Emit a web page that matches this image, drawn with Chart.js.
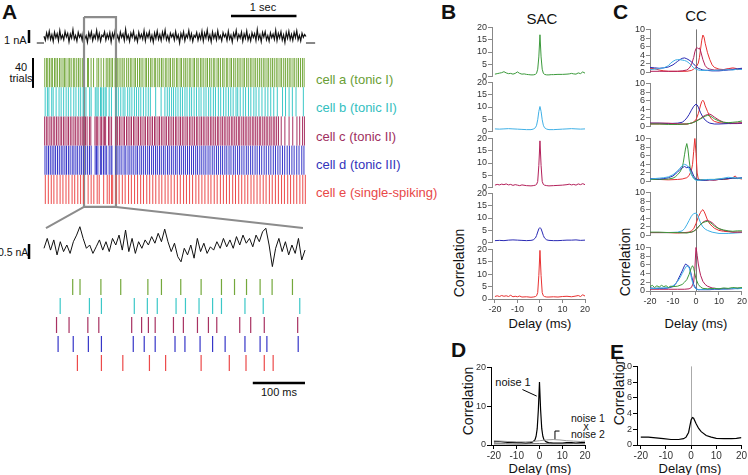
<!DOCTYPE html>
<html>
<head>
<meta charset="utf-8">
<script src="https://cdn.jsdelivr.net/npm/chart.js@4.4.1/dist/chart.umd.min.js"></script>
<style>
  body { margin: 0; background: #fff; }
  #fig { position: relative; width: 748px; height: 475px; overflow: hidden;
         font-family: 'Liberation Sans', Arial, sans-serif; color: #111; background: #fff; }
  #fig canvas { position: absolute; }
  .t { position: absolute; white-space: nowrap; line-height: 1; }
  .c { transform: translate(-50%, -50%); }
  .m { transform: translateY(-50%); }
  .rot { transform: translate(-50%, -50%) rotate(-90deg); }
  .L { font-weight: bold; font-size: 21px; }
</style>
</head>
<body>
<div id="fig">
  <div class="t L" style="left:2px;top:1px">A</div>
  <div class="t L" style="left:441px;top:1px">B</div>
  <div class="t L" style="left:613px;top:1px">C</div>
  <div class="t L" style="left:451px;top:339px">D</div>
  <div class="t L" style="left:610px;top:341px">E</div>

  <div class="t c" style="left:263px;top:7px;font-size:11px">1 sec</div>
  <div class="t m" style="left:4px;top:40px;font-size:11px">1 nA</div>
  <div class="t c" style="left:21px;top:67px;font-size:11px">40</div>
  <div class="t c" style="left:21px;top:78px;font-size:11px">trials</div>
  <div class="t m" style="left:316px;top:79px;font-size:13px;color:#6a9e35">cell a (tonic I)</div>
  <div class="t m" style="left:316px;top:107px;font-size:13px;color:#33c0c0">cell b (tonic II)</div>
  <div class="t m" style="left:316px;top:136px;font-size:13px;color:#a03060">cell c (tonic II)</div>
  <div class="t m" style="left:316px;top:164px;font-size:13px;color:#3333bb">cell d (tonic III)</div>
  <div class="t m" style="left:316px;top:192px;font-size:13px;color:#e84848">cell e (single-spiking)</div>
  <div class="t m" style="left:-2px;top:252px;font-size:10.5px">0.5 nA</div>
  <div class="t c" style="left:279px;top:392px;font-size:11px">100 ms</div>

  <div class="t c" style="left:542px;top:18px;font-size:15px">SAC</div>
  <div class="t c" style="left:696px;top:15px;font-size:15px">CC</div>
  <div class="t c" style="left:540px;top:323px;font-size:13px">Delay (ms)</div>
  <div class="t c" style="left:696px;top:323px;font-size:13px">Delay (ms)</div>
  <div class="t c" style="left:540px;top:468px;font-size:13px">Delay (ms)</div>
  <div class="t c" style="left:690px;top:468px;font-size:13px">Delay (ms)</div>
  <div class="t rot" style="left:459px;top:263px;font-size:14px">Correlation</div>
  <div class="t rot" style="left:625px;top:262px;font-size:14px">Correlation</div>
  <div class="t rot" style="left:468px;top:401px;font-size:14px">Correlation</div>
  <div class="t rot" style="left:619px;top:391px;font-size:14px">Correlation</div>

  <div class="t c" style="left:513px;top:382px;font-size:11px">noise 1</div>
  <div class="t m" style="left:571px;top:418px;font-size:10.5px">noise 1</div>
  <div class="t c" style="left:586px;top:426px;font-size:10.5px">x</div>
  <div class="t m" style="left:571px;top:434px;font-size:10.5px">noise 2</div>
</div>

<script>
// ---------- panel A : current traces (nA) ----------
const topTrace = [0.52,0.21,0.78,0.35,0.90,0.28,0.64,0.12,0.83,0.40,
  0.71,0.18,0.95,0.33,0.60,0.25,0.88,0.46,0.74,0.10,
  0.69,0.37,1.02,0.29,0.58,0.15,0.81,0.44,0.66,0.22,
  0.92,0.31,0.57,0.06,0.79,0.41,0.85,0.19,0.63,0.36,
  0.97,0.27,0.72,0.14,0.61,0.48,0.86,0.23,0.68,0.34,
  0.80,0.09,0.75,0.39,0.93,0.26,0.59,0.17,0.84,0.43,
  0.70,0.20,1.05,0.32,0.62,0.13,0.77,0.45,0.89,0.24,
  0.56,0.11,0.82,0.38,0.67,0.30,0.94,0.16,0.73,0.42,
  0.87,0.21,0.60,0.07,0.78,0.35,0.91,0.28,0.65,0.19,
  0.83,0.40,0.99,0.25,0.58,0.14,0.76,0.46,0.69,0.23,
  0.88,0.33,0.62,0.02,0.74,0.37,0.86,0.18,0.64,0.41,
  0.95,0.29,0.71,0.12,0.59,0.44,0.81,0.22,0.67,0.31,
  0.90,0.15,0.77,0.39,1.00,0.27,0.63,0.10,0.85,0.36,
  0.72,0.24,0.93,0.34,0.57,0.17,0.80,0.47,0.68,0.20,
  0.89,0.30,0.61,0.08,0.75,0.42,0.96,0.26,0.66,0.38,
  0.84,0.13,0.70,0.35,0.92,0.23,0.60,0.16,0.79,0.43,
  0.73,0.19,1.03,0.31,0.64,0.11,0.82,0.45,0.87,0.25,
  0.58,0.14,0.78,0.40,0.69,0.28,0.97,0.18,0.74,0.39,
  0.86,0.22,0.62,0.05,0.80,0.36,0.90,0.27,0.67,0.21,
  0.81,0.41,0.94,0.24,0.59,0.16,0.75,0.44,0.65,0.50];
const topTraceMs = 4000;

const zoomTrace = [-0.01,0.32,-0.07,0.27,-0.23,0.21,-0.12,0.10,-0.18,0.21,
  0.43,0.71,0.32,-0.01,0.10,-0.18,0.04,0.27,-0.07,0.21,
  -0.12,0.32,0.10,0.43,-0.07,0.60,-0.12,0.32,-0.18,0.21,
  -0.01,0.27,0.10,0.38,0.16,0.49,0.21,0.63,0.21,-0.12,
  0.16,-0.29,-0.46,-0.01,-0.23,0.10,-0.34,0.32,-0.12,0.16,
  -0.18,0.04,-0.07,0.21,-0.01,0.32,0.04,0.27,-0.01,0.38,
  0.10,0.43,0.16,0.32,0.04,0.43,0.21,0.54,0.66,0.10,
  -0.62,-0.01,0.32,-0.12,0.21,-0.23,0.10,-0.18,0.32,-0.40,-0.07];
const zoomTraceMs = 500;
const zoomWindow = [611, 1099];   // ms of the 4 s record shown below

// ---------- panel A : spike times (ms) ----------
const greenTop = [12,40,58,85,110,128,160,182,205,236,260,290,312,335,368,392,415,448,470,500,528,552,585,
  665,679,719,757,809,835,872,911,950,975,998,1024,1047,1086,
  1118,1146,1175,1203,1226,1262,1288,1318,1342,1375,1396,1428,1458,1482,1510,1545,1566,1596,1628,1650,1684,1705,
  1738,1766,1795,1818,1852,1876,1908,1932,1965,1988,2022,2044,2078,2100,2134,2158,2186,2218,2242,2276,2298,2332,
  2354,2388,2412,2440,2472,2496,2528,2553,2585,2608,2642,2666,2694,2728,2750,2784,2806,2840,2863,2896,2920,2952,
  2978,3006,3038,3060,3094,3118,3150,3175,3206,3232,3262,3292,3318,3348,3374,3405,3430,3462,3488,3516,3546,3572,
  3604,3628,3660,3686,3716,3744,3770,3802,3828,3860,3886,3916,3946,3972];
const cyanTop = [18,52,75,118,140,185,230,262,300,338,372,410,455,488,530,560,598,
  641,697,720,783,808,827,863,881,907,933,950,995,1030,1100,
  1135,1172,1208,1236,1278,1310,1342,1380,1412,1446,1478,1518,1556,1592,1624,1705,1788,1846,1882,1914,1948,1978,
  2012,2046,2082,2114,2152,2184,2224,2254,2292,2328,2366,2398,2442,2474,2514,2546,2586,2618,2662,2698,2742,2778,
  2816,2852,2888,2932,2958,2996,3042,3078,3122,3158,3204,3238,3282,3328,3376,3418,3462,3508,3562,3642,3688,3742,
  3792,3848,3960];
const maroonTop = [10,36,60,90,112,141,164,192,217,246,269,297,321,351,374,402,427,456,479,507,532,561,584,610,
  634,658,694,715,778,797,810,823,858,877,904,925,941,985,1006,1032,1096,
  1124,1152,1176,1207,1229,1260,1284,1312,1336,1367,1389,1420,1443,1472,1497,1527,1549,1580,1604,1632,1657,1687,
  1709,1740,1764,1792,1817,1847,1869,1900,1924,1952,1977,2007,2029,2060,2084,2112,2137,2167,2189,2220,2244,2272,
  2297,2327,2349,2380,2404,2432,2457,2487,2509,2540,2564,2592,2617,2647,2669,2700,2724,2752,2777,2807,2829,2860,
  2884,2912,2937,2967,2989,3020,3044,3072,3097,3127,3149,3180,3204,3232,3257,3287,3309,3340,3364,3392,3417,3447,
  3469,3500,3524,3552,3580,3622,3678,3742,3798,3862,3904,3948,3976];
const blueTop = [15,43,69,96,124,151,177,206,234,263,289,319,344,373,399,431,457,487,514,546,571,601,
  637,666,695,720,781,802,823,861,880,909,933,957,995,1024,1037,1097,
  1129,1159,1189,1223,1249,1283,1311,1341,1371,1403,1429,1463,1491,1521,1551,1583,1611,1643,1671,1703,1731,1763,
  1791,1823,1851,1885,1913,1945,1974,2006,2034,2068,2097,2129,2159,2191,2221,2253,2283,2316,2345,2379,2409,2441,
  2471,2505,2535,2569,2599,2633,2663,2697,2727,2761,2791,2825,2855,2891,2921,2956,2987,3021,3053,3089,3119,3155,
  3187,3223,3255,3291,3324,3361,3394,3431,3464,3501,3534,3571,3604,3641,3675,3713,3747,3785,3819,3859,3894,3936,3969];
const redTop = [20,66,111,151,199,246,289,336,379,429,469,516,559,601,
  674,720,761,812,843,911,965,997,1032,1049,
  1101,1147,1196,1239,1291,1334,1383,1429,1476,1519,1569,1614,1661,1707,1756,1799,1849,1894,1941,1989,2036,2081,
  2131,2175,2223,2269,2319,2364,2411,2457,2506,2549,2599,2644,2693,2739,2786,2831,2881,2924,2973,3019,3067,3111,
  3161,3205,3253,3299,3347,3391,3441,3485,3533,3579,3627,3671,3721,3765,3813,3859,3907,3951,3990];

const greenZoom = [55,69,109,147,199,225,262,301,340,365,388,414,437,476];
const cyanZoom = [31,87,110,173,198,217,253,271,297,323,340,385,420,490];
const maroonZoom = [24,48,84,105,168,187,200,213,248,267,294,315,331,375,396,422,486];
const blueZoom = [27,56,85,110,171,192,213,251,270,299,323,347,385,414,427,487];
const redZoom = [64,110,151,202,233,301,355,387,422,439];

// ---------- panel B : autocorrelations [delay ms, correlation] ----------
const sacA = [[-20,1.0],[-19,1.2],[-18,1.4],[-17,1.6],[-16,2.0],[-15,1.5],[-14,1.2],[-13,1.3],[-12,1.0],[-11,1.3],[-10,1.9],
  [-9,1.3],[-8,1.0],[-7,1.1],[-6,0.9],[-5,0.8],[-4,0.7],[-3,0.7],[-2,0.9],[-1.5,1.4],[-1,3],[-0.5,8],[0,17],[0.5,8],[1,3],
  [1.5,1.4],[2,0.9],[3,0.7],[4,0.7],[5,0.8],[6,0.8],[8,0.9],[10,0.9],[12,1.0],[13,1.1],[14,1.3],[15,1.1],[16,1.0],[17,1.5],
  [18,1.2],[19,1.9],[20,1.4]];
const sacB = [[-20,1.1],[-18,1.0],[-16,1.1],[-14,1.2],[-12,1.1],[-10,1.0],[-8,0.9],[-6,0.8],[-4,0.8],[-3,1.0],[-2,1.6],
  [-1.5,2.6],[-1,4.8],[-0.5,8.2],[0,10.2],[0.5,8.2],[1,4.8],[1.5,2.6],[2,1.6],[3,1.0],[4,0.8],[6,0.8],[8,0.9],[10,1.0],
  [12,1.1],[14,1.2],[16,1.1],[18,1.0],[20,1.1]];
const sacC = [[-20,1.0],[-19,1.3],[-18,1.1],[-17,1.4],[-16,1.2],[-15,1.5],[-14,1.1],[-13,1.3],[-12,0.9],[-11,1.2],[-10,1.0],
  [-9,0.8],[-8,1.1],[-6,0.8],[-4,0.7],[-3,0.8],[-2,1.0],[-1.5,1.3],[-1,2.5],[-0.5,9],[0,19],[0.5,9],[1,2.5],[1.5,1.3],
  [2,1.0],[3,0.8],[4,0.7],[6,0.8],[8,0.9],[10,1.0],[12,1.2],[13,1.4],[14,1.1],[15,1.3],[16,1.0],[17,1.5],[18,1.2],
  [19,1.6],[20,1.2]];
const sacD = [[-20,0.8],[-18,0.9],[-16,0.8],[-14,1.0],[-12,1.1],[-10,1.0],[-8,0.9],[-6,0.8],[-4,0.9],[-3,1.1],[-2,1.9],
  [-1.5,2.9],[-1,4.3],[-0.5,5.6],[0,6.1],[0.5,5.6],[1,4.3],[1.5,2.9],[2,1.9],[3,1.1],[4,0.9],[6,0.8],[8,0.8],[10,0.9],
  [12,1.0],[14,1.0],[16,1.1],[18,0.9],[20,1.0]];
const sacE = [[-20,1.0],[-19,1.3],[-18,1.0],[-17,1.4],[-16,1.1],[-15,1.3],[-14,1.0],[-13,1.5],[-12,0.9],[-11,1.1],[-10,0.9],
  [-9,1.2],[-8,0.8],[-6,0.9],[-4,0.7],[-3,0.8],[-2,1.0],[-1.5,1.3],[-1,2.6],[-0.5,9.5],[0,19.6],[0.5,9.5],[1,2.6],
  [1.5,1.3],[2,1.0],[3,0.8],[4,0.8],[6,0.9],[8,0.8],[10,1.0],[12,1.1],[14,0.9],[16,1.2],[17,1.4],[18,1.0],[19,1.7],[20,1.2]];

// ---------- panel C : cross-correlations, one row per reference cell ----------
const cc1Cyan = [[-20,0.7],[-18,0.8],[-16,0.9],[-14,1.1],[-12,1.6],[-11,2.2],[-10,2.6],[-9,2.9],[-8,3.0],[-7,3.0],[-6,2.9],
  [-5,2.8],[-4,2.6],[-3,2.2],[-2,1.7],[-1,1.1],[0,0.8],[1,0.6],[2,0.5],[4,0.5],[6,0.6],[8,0.5],[10,0.6],[12,0.6],[14,0.7],
  [16,0.6],[18,0.8],[20,0.7]];
const cc1Blue = [[-20,1.2],[-18,1.1],[-16,1.0],[-14,1.1],[-12,1.3],[-10,1.8],[-9,2.2],[-8,2.6],[-7,3.0],[-6,3.3],[-5,3.4],
  [-4,3.2],[-3,2.9],[-2,2.5],[-1,2.0],[0,1.4],[1,1.0],[2,0.8],[3,0.6],[5,0.5],[7,0.4],[10,0.4],[12,0.5],[14,0.6],[16,0.7],
  [18,0.9],[20,1.0]];
const cc1Maroon = [[-20,0.3],[-16,0.3],[-12,0.3],[-8,0.3],[-6,0.4],[-4,0.6],[-3,1.0],[-2,1.8],[-1,3.5],[-0.5,4.8],[0,5.6],
  [0.5,5.8],[1,5.5],[1.5,5.7],[2,5.0],[3,3.0],[4,1.6],[5,1.0],[6,0.8],[8,0.6],[10,0.6],[12,0.7],[14,0.8],[16,0.8],[18,0.7],[20,0.8]];
const cc1Red = [[-20,1.0],[-18,0.9],[-16,0.6],[-14,0.4],[-12,0.3],[-8,0.3],[-4,0.3],[-2,0.5],[-1,0.8],[0,1.2],[1,2.2],
  [1.5,3.5],[2,5.5],[2.5,7.5],[3,8.7],[3.5,8.2],[4,6.8],[5,4.6],[6,3.0],[7,1.8],[8,1.2],[10,0.8],[12,0.7],[14,0.9],[16,1.1],
  [18,0.9],[20,0.8]];

const cc2Blue = [[-20,0.8],[-16,0.8],[-12,0.7],[-8,0.8],[-6,1.0],[-5,1.4],[-4,2.0],[-3,2.8],[-2,3.8],[-1,4.7],[0,5.2],
  [0.5,5.0],[1,4.5],[2,3.2],[3,2.2],[4,1.5],[5,1.1],[6,0.8],[8,0.6],[10,0.6],[14,0.7],[18,0.7],[20,0.8]];
const cc2Red = [[-20,0.6],[-16,0.6],[-12,0.6],[-8,0.5],[-4,0.6],[-2,0.8],[-1,1.1],[0,1.6],[1,3.0],[2,5.0],[2.5,5.8],[3,6.1],
  [3.5,5.7],[4,4.8],[5,3.5],[6,2.3],[7,1.6],[8,1.2],[10,0.9],[12,0.8],[15,0.7],[18,0.8],[20,0.8]];
const cc2Green = [[-20,0.6],[-16,0.6],[-12,0.5],[-8,0.5],[-4,0.6],[-2,0.8],[0,1.2],[1,1.5],[2,1.8],[3,2.1],[4,2.4],[5,2.6],
  [6,2.5],[7,2.2],[8,1.8],[10,1.3],[12,1.0],[14,0.9],[16,1.0],[18,1.1],[20,1.3]];
const cc2Maroon = [[-20,0.8],[-16,0.8],[-12,0.8],[-10,0.7],[-6,0.6],[-4,0.6],[-2,0.8],[-1,1.0],[0,1.3],[1,1.6],[2,1.9],
  [3,2.3],[4,2.6],[5,2.8],[6,2.9],[7,2.6],[8,2.2],[10,1.5],[12,1.0],[14,0.9],[16,0.8],[18,0.8],[20,0.9]];

const cc3Green = [[-20,0.5],[-16,0.5],[-12,0.6],[-10,0.8],[-9,1.1],[-8,1.6],[-7,2.2],[-6,3.2],[-5.5,4.5],[-5,6.2],[-4.5,7.8],
  [-4,8.8],[-3.5,7.5],[-3,5.0],[-2.5,3.0],[-2,1.8],[-1,0.8],[0,0.4],[2,0.4],[4,0.4],[6,0.5],[8,0.5],[10,0.6],[12,0.6],
  [14,0.7],[16,0.8],[18,0.7],[20,0.8]];
const cc3Red = [[-20,0.5],[-16,0.5],[-12,0.4],[-8,0.5],[-6,0.6],[-4,0.9],[-3,1.4],[-2,2.6],[-1.5,4.0],[-1,7.0],[-0.5,10.2],
  [0,6.5],[0.5,2.0],[1,0.6],[2,0.4],[4,0.3],[6,0.4],[8,0.3],[10,0.5],[12,0.5],[14,0.6],[16,0.9],[17,1.3],[18,0.8],[20,0.6]];
const cc3Cyan = [[-20,0.6],[-18,0.7],[-16,0.8],[-14,0.9],[-12,1.1],[-10,1.6],[-8,2.5],[-7,3.1],[-6,3.7],[-5,4.0],[-4,3.8],
  [-3,3.0],[-2,1.6],[-1,0.7],[0,0.3],[1,0.3],[3,0.4],[5,0.5],[8,0.5],[10,0.6],[12,0.8],[14,1.0],[16,0.9],[18,0.8],[20,0.8]];
const cc3Blue = [[-20,0.7],[-18,0.7],[-16,0.6],[-14,0.7],[-12,0.9],[-10,1.3],[-8,2.2],[-7,2.8],[-6,3.2],[-5,3.5],[-4,3.2],
  [-3,3.4],[-2,2.6],[-1,1.3],[0,0.6],[1,0.4],[2,0.3],[4,0.3],[6,0.4],[8,0.4],[10,0.5],[12,0.6],[14,0.7],[16,0.8],[18,0.8],[20,0.9]];

const cc4Cyan = [[-20,0.7],[-16,0.7],[-12,0.7],[-8,0.8],[-6,1.1],[-5,1.6],[-4,2.5],[-3,3.5],[-2,4.5],[-1,5.1],[0,5.2],
  [0.5,5.0],[1,4.3],[2,2.9],[3,2.0],[4,1.5],[5,1.2],[7,0.8],[10,0.5],[14,0.5],[17,0.6],[20,0.7]];
const cc4Red = [[-20,0.7],[-16,0.7],[-12,0.7],[-8,0.6],[-5,0.7],[-3,0.8],[-2,1.1],[-1,1.6],[0,2.8],[1,4.3],[2,5.4],[2.5,5.8],
  [3,6.0],[3.5,5.6],[4,5.0],[5,3.6],[6,2.7],[7,2.2],[8,1.7],[10,1.2],[12,1.0],[14,0.9],[17,0.8],[20,0.8]];
const cc4Green = [[-20,0.8],[-16,0.8],[-12,0.7],[-8,0.7],[-4,0.6],[-2,0.8],[-1,1.0],[0,1.4],[1,2.0],[2,2.6],[3,3.0],[4,3.2],
  [5,3.3],[6,3.1],[7,2.7],[8,2.2],[10,1.6],[12,1.3],[14,1.1],[16,1.0],[18,1.1],[20,1.1]];
const cc4Maroon = [[-20,0.7],[-16,0.7],[-12,0.7],[-8,0.7],[-4,0.7],[-2,0.8],[-1,1.0],[0,1.4],[1,2.0],[2,2.6],[3,3.1],[4,3.4],
  [5,3.5],[6,3.3],[7,3.0],[8,2.5],[9,2.0],[10,1.6],[12,1.2],[14,1.0],[16,0.8],[18,0.8],[20,0.8]];

const cc5Blue = [[-20,0.7],[-18,0.6],[-16,0.6],[-14,0.6],[-12,0.7],[-10,1.0],[-9,1.5],[-8,2.4],[-7,3.5],[-6,4.6],[-5,5.8],
  [-4.5,6.2],[-4,6.0],[-3,5.6],[-2.5,4.8],[-2,3.6],[-1,1.5],[0,0.5],[1,0.3],[2,0.3],[4,0.3],[6,0.3],[8,0.4],[10,0.4],
  [12,0.5],[14,0.5],[16,0.5],[18,0.6],[20,0.6]];
const cc5Cyan = [[-20,0.6],[-18,0.6],[-16,0.7],[-14,0.7],[-12,0.8],[-10,1.2],[-9,1.6],[-8,2.2],[-7,3.0],[-6,4.0],[-5,5.0],
  [-4,5.8],[-3,5.4],[-2.5,4.4],[-2,3.0],[-1.5,2.0],[-1,1.2],[-0.5,0.7],[0,0.5],[1,0.3],[3,0.4],[5,0.4],[8,0.5],[10,0.5],
  [12,0.4],[14,0.5],[16,0.6],[18,0.5],[20,0.6]];
const cc5Green = [[-20,1.0],[-19,1.3],[-18,0.8],[-17,1.2],[-16,0.9],[-15,1.3],[-14,1.0],[-13,1.2],[-12,0.8],[-11,1.1],[-10,1.0],
  [-8,1.1],[-6,1.5],[-5,2.0],[-4,2.6],[-3,3.8],[-2.5,4.6],[-2,5.4],[-1.5,5.8],[-1,5.2],[-0.5,4.0],[0,2.8],[1,1.5],[2,0.9],
  [3,0.6],[5,0.5],[8,0.6],[10,0.5],[12,0.7],[14,0.6],[16,0.8],[18,0.7],[20,0.8]];
const cc5Maroon = [[-20,0.4],[-16,0.4],[-12,0.4],[-8,0.4],[-5,0.4],[-3,0.5],[-2,0.8],[-1,2.0],[-0.5,5.0],[0,10.2],[0.5,8.2],
  [1,6.2],[1.5,4.8],[2,3.6],[3,2.2],[4,1.5],[5,1.1],[7,0.7],[10,0.5],[14,0.5],[17,0.6],[20,0.6]];

// ---------- panels D and E ----------
const dNoise1 = [[-20,0.8],[-18,0.9],[-16,0.8],[-14,0.7],[-12,0.7],[-10,0.6],[-8,0.6],[-6,0.5],[-4,0.6],[-3,0.8],[-2,1.3],
  [-1.5,2.2],[-1,4.2],[-0.5,9.0],[0,16.2],[0.5,9.0],[1,4.2],[1.5,2.2],[2,1.3],[3,0.8],[4,0.6],[6,0.5],[8,0.5],[10,0.5],
  [12,0.6],[14,0.6],[16,0.5],[18,0.6],[20,0.7]];
const dNoise2 = [[-20,1.1],[-17,1.0],[-14,0.9],[-10,0.8],[-6,0.8],[-3,0.9],[0,1.1],[3,1.3],[6,1.4],[9,1.3],[12,1.1],
  [15,1.0],[18,0.9],[20,1.0]];
const dCross = [[-20,0.3],[-15,0.3],[-10,0.25],[-5,0.3],[0,0.35],[5,0.3],[10,0.3],[15,0.35],[20,0.3]];
const eCC = [[-20,1.0],[-17,1.0],[-14,0.9],[-11,0.8],[-8,0.7],[-5,0.7],[-3,0.8],[-2,1.0],[-1,1.6],[-0.5,2.4],[0,3.2],
  [0.5,3.5],[1,3.4],[2,2.7],[3,2.1],[4,1.7],[6,1.2],[8,1.0],[10,0.85],[13,0.8],[16,0.8],[18,0.85],[20,0.95]];

const delayTicks = [-20, -10, 0, 10, 20];

// colours
const rasterColors = ['#74a83c', '#3cc8c8', '#a83262', '#3636c8', '#ec4a4a'];
const GREEN = '#3c9a3c', CYAN = '#40b0e6', MAROON = '#b3205a', BLUE = '#2a2ab4', RED = '#e83232';

Chart.defaults.font.family = "'Liberation Sans', Arial, sans-serif";

const fig = document.getElementById('fig');

const zeroLine = {
  id: 'zeroLine',
  beforeDatasetsDraw(chart, args, o) {
    if (!o || !o.color) return;
    const x = Math.round(chart.scales.x.getPixelForValue(0)) + 0.5;
    const ctx = chart.ctx;
    ctx.save();
    ctx.strokeStyle = o.color;
    ctx.lineWidth = 1;
    ctx.beginPath();
    ctx.moveTo(x, o.full ? 0 : chart.chartArea.top);
    ctx.lineTo(x, o.toEnd ? chart.height : chart.chartArea.bottom);
    ctx.stroke();
    ctx.restore();
  }
};

function pts(pairs) {
  return pairs.map(p => ({ x: p[0], y: p[1] }));
}

function series(values, span) {
  const step = span / (values.length - 1);
  return values.map((v, i) => ({ x: i * step, y: v }));
}

function line(data, color, width) {
  return { data, borderColor: color, borderWidth: width || 1, pointRadius: 0, tension: 0,
           fill: false, spanGaps: false, borderCapStyle: 'butt' };
}

function spikes(times, lo, hi) {
  const out = [];
  times.forEach(t => { out.push({ x: t, y: lo }, { x: t, y: hi }, { x: t, y: null }); });
  return out;
}

// area = chart area in page pixels
function makeChart(area, cfg) {
  const yW = cfg.yWidth || 0, xH = cfg.xHeight || 0;
  const padT = cfg.padT || 0, padR = cfg.padR || 0, padB = cfg.padB || 0;
  const cv = document.createElement('canvas');
  const w = yW + area.w + padR, h = padT + area.h + xH + padB;
  cv.width = w; cv.height = h;
  cv.style.left = (area.x - yW) + 'px';
  cv.style.top = (area.y - padT) + 'px';
  cv.style.width = w + 'px';
  cv.style.height = h + 'px';
  fig.appendChild(cv);
  return new Chart(cv, {
    type: 'line',
    data: { datasets: cfg.datasets },
    options: {
      responsive: false, animation: false, events: [],
      layout: { padding: { left: 0, top: padT, right: padR, bottom: padB } },
      plugins: { legend: { display: false }, tooltip: { enabled: false }, zeroLine: cfg.zero || {} },
      scales: { x: cfg.x, y: cfg.y }
    },
    plugins: [zeroLine]
  });
}

function hidden(min, max) {
  return { type: 'linear', display: false, min, max };
}

function corrY(max, step, color, size, width) {
  return {
    type: 'linear', min: 0, max,
    afterFit: s => { s.width = width; },
    ticks: { stepSize: step, autoSkip: false, font: { size }, color: '#333', padding: 1 },
    grid: { drawOnChartArea: false, drawTicks: true, tickLength: 4, color, tickColor: color },
    border: { display: true, color, width: 1 }
  };
}

function delayX(min, max, show, color, size) {
  return {
    type: 'linear', min, max, display: show,
    afterBuildTicks: s => { s.ticks = delayTicks.map(v => ({ value: v })); },
    afterFit: s => { s.height = show ? 16 : 0; },
    ticks: { font: { size }, color: '#333', padding: 1, maxRotation: 0, autoSkip: false },
    grid: { drawOnChartArea: false, drawTicks: true, tickLength: 4, color, tickColor: color },
    border: { display: true, color, width: 1 }
  };
}

// ---------- A: 4 s current trace ----------
makeChart({ x: 25, y: 8, w: 291, h: 44 }, {
  x: hidden(-290, 4153), y: hidden(-0.692, 2.692),
  datasets: [
    line(series(topTrace, topTraceMs), '#111', 1.2),
    line([{ x: -110, y: 0 }, { x: 0, y: 0 }, { x: 0, y: null }, { x: 4000, y: 0 }, { x: 4140, y: 0 }], '#111', 1),
    line([{ x: -229, y: 0 }, { x: -229, y: 1 }], '#000', 2.5),
    line([{ x: 2855, y: 2.08 }, { x: 3855, y: 2.08 }], '#000', 2.5)
  ]
});

// ---------- A: 40-trial rasters, 5 cells ----------
const topSpikes = [greenTop, cyanTop, maroonTop, blueTop, redTop];
const rasterSets = topSpikes.map((times, i) => {
  const hi = 200 - 40 * i;
  return line(spikes(times, hi - 40, hi), rasterColors[i], 1);
});
makeChart({ x: 25, y: 12, w: 291, h: 220 }, {
  x: hidden(-290, 4153), y: hidden(-38.4, 263.0),
  datasets: rasterSets.concat([
    line([{ x: -168, y: 159 }, { x: -168, y: 200 }], '#000', 2),
    line([{ x: zoomWindow[0], y: 256 }, { x: zoomWindow[1], y: 256 }, { x: zoomWindow[1], y: -4 },
          { x: zoomWindow[0], y: -4 }, { x: zoomWindow[0], y: 256 }], '#8c8c8c', 2.2),
    line([{ x: 30, y: -33 }, { x: zoomWindow[0], y: -4 }, { x: zoomWindow[0], y: null },
          { x: zoomWindow[1], y: -4 }, { x: 3954, y: -33 }], '#8c8c8c', 2)
  ])
});

// ---------- A: 500 ms zoom of the trace ----------
makeChart({ x: 25, y: 222, w: 291, h: 50 }, {
  x: hidden(-36.4, 521.1), y: hidden(-0.8, 0.867),
  datasets: [
    line(series(zoomTrace, zoomTraceMs), '#111', 1),
    line([{ x: -28.7, y: -0.367 }, { x: -28.7, y: 0.133 }], '#000', 2.5)
  ]
});

// ---------- A: zoomed rasters ----------
const zoomSpikes = [greenZoom, cyanZoom, maroonZoom, blueZoom, redZoom];
const zoomSets = zoomSpikes.map((times, i) => {
  const hi = 200 - 40 * i;
  return line(spikes(times, hi - 38, hi - 4), rasterColors[i], 1.2);
});
makeChart({ x: 25, y: 272, w: 291, h: 118 }, {
  x: hidden(-36.4, 521.1), y: hidden(-37.9, 210.5),
  datasets: zoomSets.concat([line([{ x: 400, y: -23 }, { x: 500, y: -23 }], '#000', 2.5)])
});

// ---------- B: SAC ----------
const sacRows = [[sacA, GREEN], [sacB, CYAN], [sacC, MAROON], [sacD, BLUE], [sacE, RED]];
const sacTops = [27, 82, 138, 193, 249];
sacRows.forEach((row, i) => {
  const last = i === sacRows.length - 1;
  makeChart({ x: 492, y: sacTops[i], w: 93, h: 50 }, {
    yWidth: 26, xHeight: last ? 16 : 0, padT: 6, padR: 8, padB: last ? 2 : 6,
    x: delayX(-21.3, 20, last, '#888', 9),
    y: corrY(20, 5, '#888', 9, 26),
    datasets: [line(pts(row[0]), row[1], 1)]
  });
});

// ---------- C: CC ----------
const ccRows = [
  [[cc1Cyan, CYAN], [cc1Blue, BLUE], [cc1Maroon, MAROON], [cc1Red, RED]],
  [[cc2Green, GREEN], [cc2Maroon, MAROON], [cc2Blue, BLUE], [cc2Red, RED]],
  [[cc3Cyan, CYAN], [cc3Blue, BLUE], [cc3Green, GREEN], [cc3Red, RED]],
  [[cc4Green, GREEN], [cc4Maroon, MAROON], [cc4Cyan, CYAN], [cc4Red, RED]],
  [[cc5Green, GREEN], [cc5Cyan, CYAN], [cc5Blue, BLUE], [cc5Maroon, MAROON]]
];
const ccTops = [29, 83, 138, 192, 247];
ccRows.forEach((row, i) => {
  const last = i === ccRows.length - 1;
  makeChart({ x: 650, y: ccTops[i], w: 92, h: 44 }, {
    yWidth: 26, xHeight: last ? 16 : 0, padT: 6, padR: 6, padB: last ? 2 : 6,
    x: delayX(-20, 20, last, '#888', 9),
    y: corrY(10, 2, '#888', 9, 26),
    zero: { color: '#777', full: i > 0, toEnd: !last },
    datasets: row.map(r => line(pts(r[0]), r[1], 1))
  });
});

// ---------- D: noise controls ----------
makeChart({ x: 491, y: 367, w: 94, h: 78 }, {
  yWidth: 22, xHeight: 16, padT: 6, padR: 8, padB: 2,
  x: delayX(-21.3, 20, true, '#000', 10),
  y: corrY(20, 10, '#000', 9, 22),
  datasets: [
    line(pts(dNoise2), '#999', 1),
    line(pts(dCross), '#555', 1),
    line(pts(dNoise1), '#000', 1.2),
    line([{ x: -7.5, y: 14.3 }, { x: -1.2, y: 12.6 }], '#000', 1),
    line([{ x: 6.8, y: 1.4 }, { x: 6.8, y: 3.6 }, { x: 8.8, y: 3.6 }], '#000', 1)
  ]
});

// ---------- E: pooled CC ----------
makeChart({ x: 637, y: 366, w: 105, h: 79 }, {
  yWidth: 22, xHeight: 16, padT: 6, padR: 6, padB: 2,
  x: delayX(-21.5, 20, true, '#000', 10),
  y: corrY(10, 2, '#000', 9, 22),
  zero: { color: '#aaa' },
  datasets: [line(pts(eCC), '#000', 1.2)]
});
</script>
</body>
</html>
